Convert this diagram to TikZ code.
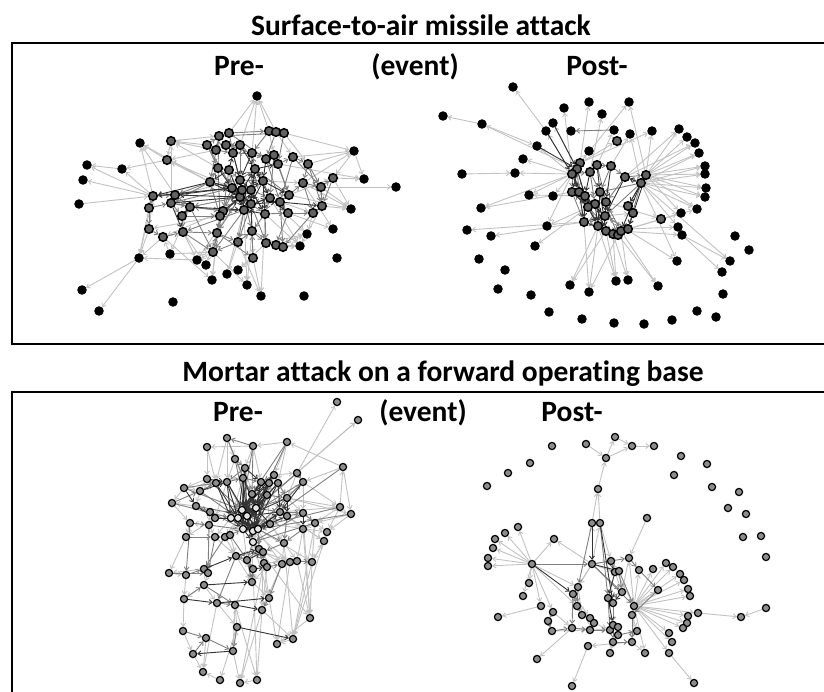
\documentclass[tikz,border=0pt]{standalone}
\usepackage{fontspec}
\setmainfont{Carlito}[Ligatures=NoCommon]
\usetikzlibrary{arrows.meta,backgrounds}
\tikzset{
  sk/.style={circle,fill=black,draw=black,line width=0.8pt,minimum size=8.6pt,inner sep=0pt},
  sg/.style={sk,fill=black!62,line width=1.5pt},
  mg/.style={circle,fill=black!45,draw=black,line width=1.2pt,minimum size=7.2pt,inner sep=0pt},
  mw/.style={mg,fill=black!10},
  lnk/.style={line width=0.9pt,-{Straight Barb[length=3.2pt,width=5pt]}},
  el/.style={lnk,draw=black!24},
  em/.style={lnk,draw=black!50},
  ed/.style={lnk,draw=black!80},
  ttl/.style={font=\bfseries\fontsize{29.5}{32}\selectfont,inner sep=0pt,anchor=base},
  frame/.style={line width=2.6pt},
}
\begin{document}
\begin{tikzpicture}[x=1pt,y=-1pt]
\useasboundingbox (0,0) rectangle (824,691);

% ---------- frames and headings ----------
\draw[frame] (826,43) -- (12,43) -- (12,344) -- (826,344);
\draw[frame] (826,392) -- (12,392) -- (12,693);
\node[ttl] (title1) at (421,35) {Surface-to-air missile attack};
\node[ttl] (title2) at (443,381) {Mortar attack on a forward operating base};
\node[ttl] (pre1)  at (239,75) {Pre-};
\node[ttl] (ev1)   at (415,75) {(event)};
\node[ttl] (post1) at (597,75) {Post-};
\node[ttl] (pre2)  at (238,421) {Pre-};
\node[ttl] (ev2)   at (423,421) {(event)};
\node[ttl] (post2) at (572,421) {Post-};

% ---------- surface-to-air, before ----------
\foreach \i/\x/\y in {1/257/96,2/140/143,4/87/165,5/83/180,6/122/169,8/79/204,18/139/258,
  19/170/254,20/82/290,21/99/311,22/173/302,23/197/260,24/206/265,25/212/280,26/227/274,
  27/238/270,28/247/285,29/261/296,30/304/296,31/337/258,40/300/246,41/307/234,42/333/229,
  45/351/209,62/364/179,63/396/187,64/354/151}
  \node[sk] (A\i) at (\x,\y) {};
\foreach \i/\x/\y in {3/171/141,7/167/160,9/153/196,10/175/195,11/149/208,12/171/203,
  13/190/207,14/182/216,15/149/229,16/163/237,17/183/232,32/253/258,33/213/252,34/217/233,
  35/238/242,36/252/231,37/266/243,38/276/245,39/283/247,43/313/213,44/322/206,46/288/213,
  47/265/214,48/244/210,49/223/211,50/220/216,51/251/204,52/240/197,53/232/188,54/242/190,
  55/251/190,56/270/198,57/280/202,58/289/195,59/303/183,60/321/187,61/333/178,65/308/164,
  66/293/157,67/278/164,68/274/155,69/266/159,70/252/153,71/255/169,72/263/181,73/240/180,
  74/229/170,75/218/168,76/210/182,77/233/153,78/240/145,79/226/145,80/216/150,81/207/145,
  82/219/136,83/229/133,84/269/131,85/276/132,86/284/133}
  \node[sg] (A\i) at (\x,\y) {};

% ---------- surface-to-air, after ----------
\foreach \i/\x/\y in {1/513/87,2/443/116,3/482/124,4/564/108,5/589/102,6/629/102,7/602/114,
  8/553/123,9/546/131,10/571/131,11/614/130,12/630/134,13/652/131,14/679/129,15/687/137,
  16/695/143,17/699/153,18/705/166,19/705/174,20/706/188,21/705/197,22/697/209,23/681/213,
  24/678/227,25/682/235,30/589/151,31/537/146,32/523/159,33/462/174,34/515/173,35/529/195,
  36/553/196,37/481/208,38/547/226,39/535/246,40/467/230,41/491/236,42/479/259,43/505/270,
  44/498/289,45/531/295,46/549/312,47/582/319,48/614/323,49/644/324,50/672/320,51/697/311,
  52/716/317,53/723/294,54/722/272,55/730/261,56/749/250,57/735/236,58/677/261,59/658/286,
  60/628/280,61/616/281,62/589/292,63/570/285}
  \node[sk] (B\i) at (\x,\y) {};
\foreach \i/\x/\y in {26/661/219,27/633/213,28/628/206,29/617/141,64/580/163,65/577/169,
  66/572/174,67/590/172,68/597/165,69/611/166,70/625/177,71/646/175,72/641/183,73/572/192,
  74/579/192,75/585/196,76/600/192,77/606/202,78/595/204,79/588/207,80/605/216,81/584/222,
  82/598/226,83/606/231,84/613/234,85/618/235,86/621/231,87/628/229}
  \node[sg] (B\i) at (\x,\y) {};

% ---------- mortar, before ----------
\foreach \i/\x/\y in {1/337/402,2/358/420,3/227/438,4/207/447,5/253/446,6/287/442,7/235/459,
  8/343/467,9/245/468,10/297/473,11/303/482,12/274/475,13/207/479,14/216/483,15/227/482,
  16/243/478,17/261/482,18/269/483,19/278/483,20/184/488,21/200/491,22/252/494,23/267/495,
  24/287/498,25/172/503,26/196/506,27/210/512,30/280/512,31/303/513,32/340/507,33/351/514,
  34/287/516,35/190/523,36/209/525,37/215/518,41/270/524,42/315/523,43/303/529,44/186/537,
  45/215/537,46/225/537,47/230/535,51/284/543,52/327/532,53/324/541,54/236/556,55/247/560,
  56/259/549,57/263/552,58/264/563,59/267/567,60/282/564,61/290/562,62/297/561,63/312/562,
  64/253/569,65/169/573,66/186/575,67/204/569,68/208/573,69/204/585,70/252/582,71/269/598,
  72/184/599,73/217/603,74/235/605,75/262/610,76/310/618,77/237/627,78/183/631,79/293/639,
  80/277/644,81/206/638,82/233/651,83/193/654,84/203/672,85/220/680,86/240/683,87/257/680}
  \node[mg] (C\i) at (\x,\y) {};
\foreach \i/\x/\y in {28/242/510,29/256/508,38/231/518,39/238/518,40/247/516,48/243/529,
  49/253/531,50/258/529,88/253/542}
  \node[mw] (C\i) at (\x,\y) {};

% ---------- mortar, after ----------
\foreach \i/\x/\y in {1/615/437,2/586/444,3/632/446,4/654/446,5/552/446,6/606/458,7/530/463,
  8/508/473,9/487/486,10/598/489,11/681/456,12/707/464,13/674/475,14/712/487,15/739/492,
  16/728/508,17/746/514,18/743/537,19/761/536,20/766/557,21/647/518,22/592/523,23/600/523,
  24/518/527,25/505/533,26/495/539,27/493/548,28/488/558,29/488/566,30/554/539,31/532/564,
  32/592/564,33/611/561,34/629/558,35/615/572,36/619/571,37/639/570,38/653/569,39/666/563,
  40/673/567,41/680/574,42/684/580,43/688/589,44/690/596,45/658/590,46/622/592,47/608/598,
  48/613/603,49/578/587,50/573/594,51/529/583,52/523/596,53/541/606,54/577/606,55/634/606,
  56/632/615,57/688/616,58/698/613,59/741/617,60/766/608,61/687/623,62/683/628,63/498/617,
  64/553/612,65/582/615,66/548/621,67/590/618,68/594/623,69/552/631,70/572/628,71/590/630,
  72/610/630,73/613/625,74/618/627,75/618/635,76/637/631,77/669/633,78/613/642,79/632/642,
  80/672/642,81/588/646,82/610/653,83/645/653,84/669/653,85/537/659,86/572/686,87/694/683}
  \node[mg] (D\i) at (\x,\y) {};

% ---------- links, drawn under the vertices ----------
\begin{scope}[on background layer]
% surface-to-air, before
\foreach \s/\t in {83/1,70/1,85/1,78/1,84/1,9/2,6/4,9/4,9/5,8/9,9/6,7/6,7/2,3/7,81/3,3/82,
  18/20,18/21,23/18,15/18,11/18,9/18,32/29,35/29,47/29,36/28,33/28,34/25,16/25,35/26,37/27,
  17/23,43/41,44/40,39/40,46/42,60/45,44/45,61/45,61/62,64/62,64/61,65/64,60/63,19/16,13/19,
  19/33,59/64,58/61,57/43,44/60,72/59,86/65,85/66,84/68,76/7,75/3,80/7,11/9,15/9,16/18,17/24,
  33/23,49/16,50/15,48/26,38/40,37/41,36/39,32/27,34/24,12/3,10/2,58/45,56/41,47/40,53/7,
  73/10,67/62,66/64,59/42,38/41,51/32,52/23,86/64,48/28,50/25,36/32,56/40,59/45,76/2,80/3}
  \draw[el] (A\s) -- (A\t);
\foreach \s/\t in {9/10,10/12,11/12,12/13,13/14,15/16,16/17,9/11,11/15,14/17,12/14,10/13,
  53/54,54/55,52/51,51/48,48/49,49/50,50/76,76/75,75/74,74/73,73/72,72/71,71/70,70/77,77/78,
  78/79,79/80,80/81,81/82,82/83,83/84,84/85,85/86,69/68,68/67,67/66,66/65,65/59,59/60,60/61,
  58/57,57/56,56/47,47/46,46/43,43/44,36/37,37/38,38/39,35/36,34/35,33/34,32/36,55/72,53/73,
  54/52,52/48,73/71,74/53,70/69,72/56,56/51,51/47,47/36,58/59,57/46,55/56,73/49,52/13,49/13,
  76/10,53/12,48/17,50/34,48/33,49/34,13/33,34/32,35/33,51/35,47/37,57/39,46/38,43/39,17/34,
  82/86,83/69,79/70,80/77,81/53,75/82,71/58,69/57,68/56,67/58,70/55,77/54,78/73,66/60,65/60,
  14/50,17/33,12/49,76/12,54/36,55/47,51/37,48/35,49/33,52/34,53/50,74/49,75/50,81/75,
  82/76,83/77,84/70,85/69,86/67,68/58,66/57,65/44,59/43,60/44,61/44}
  \draw[em] (A\s) -- (A\t);
\foreach \s/\t in {53/9,52/10,76/9,54/71,55/51,73/52,74/76,52/53,71/72,53/55,72/51,48/54,
  51/57,56/46,47/48,55/71,74/77,73/54,76/53,50/49,14/13,12/17,71/67,72/58,57/44,36/51,
  53/51,52/55,73/55,74/52,76/52,54/72,71/51,48/55,49/52,50/52,53/48,71/56,72/47,55/47,
  51/56,73/48,75/53,76/54,77/73,70/73,69/72,78/71,10/53,12/52,13/48}
  \draw[ed] (A\s) -- (A\t);

% surface-to-air, after
\foreach \s/\t in {71/13,71/14,71/15,71/16,71/17,71/18,71/19,71/20,71/21,71/22,71/23,72/18,
  72/20,72/21,72/12,71/6,72/58,72/24,72/55,25/54,25/55,66/34,66/32,66/35,66/36,66/37,66/38,
  66/31,65/8,66/4,64/5,64/6,67/7,68/11,69/12,64/30,33/34,3/2,3/31,9/1,64/29,82/63,82/62,83/61,
  84/60,86/59,79/39,81/41,78/38,87/23,87/24,77/26,80/27,75/35,73/37,80/58,86/25,87/22,83/63,
  85/62,84/61,85/59,81/40,64/13,66/9,65/3,72/19,72/22,72/17,70/14,70/16,81/62,82/61,86/60}
  \draw[el] (B\s) -- (B\t);
\foreach \s/\t in {64/65,65/66,66/67,67/68,68/69,69/70,70/71,71/72,72/76,73/74,74/75,75/76,
  76/77,77/78,78/79,79/73,80/81,81/82,82/83,83/84,84/85,85/86,86/87,87/80,66/73,67/76,70/72,
  72/80,65/79,73/81,75/82,76/86,72/87,72/28,28/27,27/87,11/10,66/75,67/78,68/77,74/82,79/84,
  76/85,70/77,69/76,65/74}
  \draw[em] (B\s) -- (B\t);
\foreach \s/\t in {9/66,8/65,31/65,72/70,66/74,75/81,76/83,78/82,71/28,73/79,77/80,
  66/79,73/78,74/81,75/80,76/82,64/73,67/75,68/76,69/77,70/80,71/87,72/86,78/83,79/82,
  81/85,65/75,74/80}
  \draw[ed] (B\s) -- (B\t);

% mortar, before
\foreach \s/\t in {10/1,10/2,5/4,3/7,6/5,6/12,5/9,8/6,8/11,8/33,32/8,33/42,32/52,12/10,11/32,
  24/33,31/52,34/53,43/76,53/79,63/79,62/76,61/80,51/79,60/75,75/87,75/86,77/85,82/86,74/82,
  73/84,81/84,83/84,78/83,72/78,69/72,66/72,65/66,67/65,44/65,35/44,25/35,20/25,13/20,21/13,
  26/25,27/36,36/45,45/54,54/70,64/70,70/71,71/80,76/80,77/74,73/77,69/73,68/69,67/68,58/71,
  59/75,55/64,54/64,56/60,57/61,58/62,63/53,52/53,42/43,41/51,51/60,4/13,3/14,7/15,9/22,16/28,
  12/23,19/24,18/30,24/31,30/34,34/43,23/41,29/41,28/47,40/48,39/46,38/45,37/44,36/35,27/26,
  21/26,20/21,14/21,15/37,16/38,17/40,22/49,23/50,49/88,50/88,88/56,88/57,48/55,47/54,46/54,
  74/64,82/77,79/80,87/86,85/84,59/70,57/58,61/62,53/63,43/62,42/63,32/42,33/52,11/31,10/24,
  6/19,5/17,3/15,4/14,7/16,31/76,42/79,63/76,75/79,74/87,29/2,30/32,41/52,24/32,
  88/70,88/71,50/63,49/61,41/62,30/53,40/60,56/76,57/75,58/86,64/87}
  \draw[el] (C\s) -- (C\t);
\foreach \s/\t in {5/3,17/18,18/19,12/18,9/16,16/17,15/16,14/15,13/14,21/14,22/23,23/24,
  24/11,28/29,29/30,30/31,31/42,38/39,39/40,40/41,41/34,34/31,48/49,49/50,50/51,47/48,46/47,
  45/46,37/38,36/37,27/37,26/27,22/28,23/29,17/22,18/23,19/24,16/22,15/28,29/40,30/41,39/48,
  40/49,41/50,56/57,57/58,58/59,55/56,54/55,59/60,60/61,61/62,62/63,64/55,88/55,88/58,51/57,
  50/56,47/55,34/51,43/51,24/30,12/17,10/11,9/15,7/9,20/14,25/21,35/36,44/45,66/67,65/68,
  69/74,73/74,70/64,72/69,78/81,81/82,83/81,77/82,71/75,60/71,55/70,54/73,46/67,45/68,36/68,
  35/66,6/22,6/29,5/22,5/28,3/29,7/40,10/29,10/40,11/40,11/49,19/40,24/29,41/28,12/29,
  20/28,21/39,25/38,26/40,13/28,27/48,36/49,8/30,32/41,33/50,42/88,31/88}
  \draw[em] (C\s) -- (C\t);
\foreach \s/\t in {22/29,29/39,28/40,17/28,18/29,23/40,19/30,16/39,15/38,14/38,22/40,28/49,
  29/50,39/49,40/50,38/48,48/50,49/41,17/23,12/19,9/17,13/15,21/15,26/37,37/39,20/26,54/56,
  55/57,64/59,67/54,69/70,73/71,72/73,74/75,82/83,77/79,24/34,31/43,11/30,
  28/39,28/48,29/49,40/88,48/88,39/50,38/40,28/50,29/48,16/29,17/29,22/39,22/48,23/49,17/49,
  18/40,12/22,23/28,18/28,9/28,9/40,15/40,14/39,38/49,38/29,50/30,49/30,
  16/40,15/39,22/50,23/48,17/39,18/49,19/29,12/28,24/40,19/49,16/48,41/29,30/40,34/49}
  \draw[ed] (C\s) -- (C\t);

% mortar, after
\foreach \s/\t in {2/6,6/1,1/3,3/4,6/3,10/6,22/10,23/10,21/34,31/24,31/25,31/26,31/27,31/28,
  31/29,31/30,31/52,31/51,31/49,31/54,31/64,31/53,32/30,32/33,32/35,32/49,32/50,32/22,32/23,
  55/37,55/38,55/39,55/40,55/41,55/42,55/43,55/44,55/45,55/57,55/58,55/61,55/62,55/80,55/84,
  55/83,55/77,55/34,55/33,58/59,60/59,84/87,53/63,70/85,81/86,49/65,50/67,54/68,66/69,64/70,
  69/71,70/72,75/78,78/82,79/83,79/81,56/76,55/79,67/71,68/72,33/46,34/46,23/33}
  \draw[el] (D\s) -- (D\t);
\foreach \s/\t in {31/32,32/55,23/47,22/49,32/34,32/46,47/48,46/47,48/73,47/72,49/50,50/54,
  54/65,65/67,67/68,68/71,71/72,72/74,74/75,75/76,55/56,56/79,73/78,33/35,35/36,36/46,34/37,
  37/45,45/56,49/54,50/70,64/66,66/69,69/70,70/71,36/55,78/79}
  \draw[em] (D\s) -- (D\t);
\foreach \s/\t in {22/32,23/48,32/36,31/50,47/73,46/48,35/47,72/73,73/74}
  \draw[ed] (D\s) -- (D\t);
\end{scope}
\end{tikzpicture}
\end{document}
